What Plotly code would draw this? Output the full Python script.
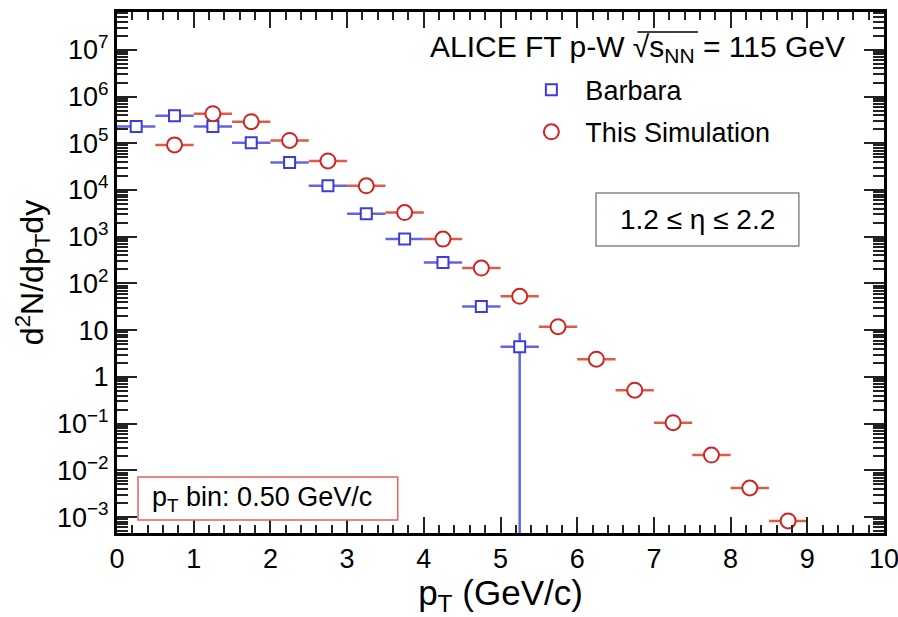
import plotly.graph_objects as go

# Transverse-momentum spectra, 0.5 GeV/c bins
pt_barbara = [0.25, 0.75, 1.25, 1.75, 2.25, 2.75, 3.25, 3.75, 4.25, 4.75, 5.25]
yield_barbara = [2.3e5, 3.9e5, 2.3e5, 1.03e5, 3.9e4, 1.23e4, 3.1e3, 890, 282, 32, 4.4]
err_barbara = [0, 0, 0, 0, 0, 0, 0, 0, 0, 0, 4.4]

pt_sim = [0.75, 1.25, 1.75, 2.25, 2.75, 3.25, 3.75, 4.25, 4.75, 5.25,
          5.75, 6.25, 6.75, 7.25, 7.75, 8.25, 8.75]
yield_sim = [9.25e4, 4.3e5, 2.9e5, 1.15e5, 4.2e4, 1.23e4, 3.3e3, 890, 214, 53,
             11.9, 2.4, 0.52, 0.105, 0.0213, 0.0042, 0.00083]

half_bin = 0.25

y_tickvals = [1e-3, 1e-2, 1e-1, 1, 10, 1e2, 1e3, 1e4, 1e5, 1e6, 1e7]
y_ticktext = ["10<sup>−3</sup>", "10<sup>−2</sup>", "10<sup>−1</sup>", "1", "10",
              "10<sup>2</sup>", "10<sup>3</sup>", "10<sup>4</sup>", "10<sup>5</sup>",
              "10<sup>6</sup>", "10<sup>7</sup>"]

FONT = "Liberation Sans, Arial, Helvetica, sans-serif"
BLUE = "#3c3cd8"
BLUE_BAR = "#6464e0"
RED = "#d02424"
RED_BAR = "#e05a44"

fig = go.Figure()

fig.add_trace(go.Scatter(
    x=pt_barbara, y=yield_barbara, mode="markers", name="Barbara",
    legendgroup="a",
    marker=dict(symbol="square", size=11, color="white",
                line=dict(color=BLUE, width=2)),
    error_x=dict(type="constant", value=half_bin, width=0, thickness=2.5, color=BLUE_BAR),
    error_y=dict(type="data", array=err_barbara, width=0, thickness=2.5, color=BLUE_BAR),
))

fig.add_trace(go.Scatter(
    x=pt_sim, y=yield_sim, mode="markers", name="This Simulation",
    legendgroup="b",
    marker=dict(symbol="circle", size=15, color="white",
                line=dict(color=RED, width=2)),
    error_x=dict(type="constant", value=half_bin, width=0, thickness=2.5, color=RED_BAR),
))

axis_common = dict(
    showline=True, linewidth=3, linecolor="black", mirror="ticks",
    ticks="inside", tickcolor="#222", showgrid=False, zeroline=False,
    automargin=False,
    tickfont=dict(family=FONT, size=27, color="black"),
)

fig.update_xaxes(
    range=[0, 10], tick0=0, dtick=1, ticklen=16, tickwidth=2,
    ticklabeloverflow="allow",
    minor=dict(dtick=0.2, ticklen=8, tickwidth=1.5, tickcolor="#222", ticks="inside"),
    title=dict(text="p<sub>T</sub> (GeV/c)", font=dict(family=FONT, size=35, color="black"),
               standoff=0),
    **axis_common,
)

fig.update_yaxes(
    type="log", range=[-3.34, 7.81], tickmode="array",
    tickvals=y_tickvals, ticktext=y_ticktext, ticklen=20, tickwidth=2,
    minor=dict(dtick="D1", ticklen=11, tickwidth=1.5, tickcolor="#222", ticks="inside"),
    title=dict(text="d<sup>2</sup>N/dp<sub>T</sub>dy", font=dict(family=FONT, size=32, color="black"),
               standoff=4),
    **axis_common,
)

fig.add_annotation(
    xref="paper", yref="paper", x=0.952, y=0.929, xanchor="right", yanchor="middle",
    text="ALICE FT p-W √s<sub>NN</sub> = 115 GeV", showarrow=False,
    font=dict(family=FONT, size=30, color="black"),
)
# overline of the square-root sign
fig.add_shape(type="line", xref="paper", yref="paper", x0=0.6785, x1=0.7575, y0=0.9616, y1=0.9616,
              line=dict(color="black", width=1.5))

# pseudorapidity window box
fig.add_shape(type="rect", xref="paper", yref="paper", x0=0.6245, x1=0.889, y0=0.551, y1=0.6526,
              line=dict(color="#888", width=1.5), fillcolor="white")
fig.add_annotation(
    xref="paper", yref="paper", x=0.757, y=0.602, xanchor="center", yanchor="middle",
    text="1.2 ≤ η ≤ 2.2", showarrow=False, font=dict(family=FONT, size=28, color="black"),
)

# bin-width box
fig.add_shape(type="rect", xref="paper", yref="paper", x0=0.0274, x1=0.366, y0=0.025, y1=0.1075,
              line=dict(color="#e06060", width=1.5), fillcolor="white")
fig.add_annotation(
    xref="paper", yref="paper", x=0.043, y=0.066, xanchor="left", yanchor="middle",
    text="p<sub>T</sub> bin: 0.50 GeV/c", showarrow=False,
    font=dict(family=FONT, size=27, color="black"),
)

fig.update_layout(
    width=898, height=617,
    margin=dict(l=117, r=14, t=12, b=84, autoexpand=False),
    paper_bgcolor="white", plot_bgcolor="white",
    showlegend=True,
    legend=dict(x=0.522, y=0.897, xanchor="left", yanchor="top",
                bgcolor="rgba(0,0,0,0)", itemwidth=58, tracegroupgap=4,
                font=dict(family=FONT, size=27, color="black"), traceorder="grouped"),
)

fig.write_html("out.html")
